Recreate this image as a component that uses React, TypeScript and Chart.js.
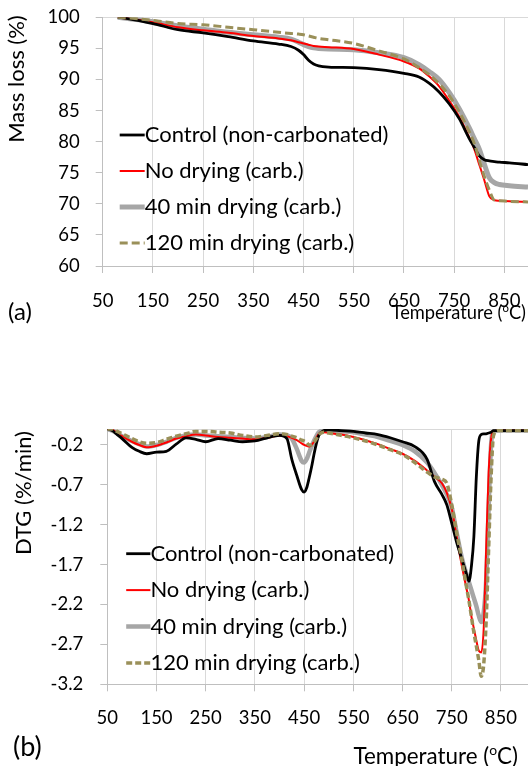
import React, { useEffect, useRef } from 'react';
import { Chart, registerables } from 'chart.js';

Chart.register(...registerables);

const FONT_FAMILY = 'Lato, "Open Sans", sans-serif';

// ---------- shared ----------
const seriesNames = [
  'Control (non-carbonated)',
  'No drying (carb.)',
  '40 min drying (carb.)',
  '120 min drying (carb.)',
];
const xTickValues = [50, 150, 250, 350, 450, 550, 650, 750, 850];

// ---------- panel (a): mass loss ----------
const massTicks = [60, 65, 70, 75, 80, 85, 90, 95, 100];
const tempA = [80, 100, 150, 200, 250, 300, 350, 400, 425, 440, 450, 460, 470, 480, 500, 550, 600, 650, 680, 700, 720, 740, 760, 780, 790, 800, 810, 820, 830, 840, 860, 897];
const massControl = [100, 99.8, 99.0, 98.0, 97.5, 96.9, 96.2, 95.7, 95.3, 94.7, 94.0, 93.1, 92.5, 92.2, 92.0, 91.9, 91.6, 91.0, 90.4, 89.4, 88.0, 86.1, 83.7, 80.5, 79.1, 77.7, 77.1, 76.9, 76.8, 76.7, 76.6, 76.3];
const massNoDrying = [100, 99.8, 99.2, 98.4, 97.9, 97.5, 97.0, 96.6, 96.3, 96.0, 95.8, 95.6, 95.4, 95.3, 95.2, 94.9, 94.0, 92.9, 91.8, 90.5, 88.9, 86.6, 84.0, 80.7, 78.8, 76.3, 73.8, 71.2, 70.6, 70.5, 70.4, 70.3];
const mass40min = [100, 99.8, 99.3, 98.6, 98.1, 97.6, 97.2, 96.8, 96.5, 96.0, 95.6, 95.3, 95.1, 95.0, 94.9, 94.8, 94.3, 93.5, 92.4, 91.3, 90.0, 87.9, 85.3, 82.2, 80.5, 78.8, 76.4, 74.2, 73.4, 73.1, 72.9, 72.7];
const mass120min = [100, 99.9, 99.5, 99.0, 98.8, 98.4, 98.0, 97.6, 97.4, 97.3, 97.2, 97.0, 96.8, 96.6, 96.4, 95.8, 94.6, 93.3, 91.9, 90.8, 89.3, 87.4, 84.8, 81.6, 79.7, 77.0, 74.4, 72.2, 70.6, 70.5, 70.4, 70.3];

// ---------- panel (b): DTG ----------
const dtgTicks = [-3.2, -2.7, -2.2, -1.7, -1.2, -0.7, -0.2, 0];
const tempB = [50, 60, 70, 80, 100, 115, 130, 150, 170, 190, 210, 230, 250, 275, 300, 325, 350, 375, 400, 415, 425, 435, 445, 450, 455, 460, 465, 470, 475, 480, 490, 500, 525, 550, 575, 600, 625, 650, 675, 700, 715, 730, 740, 750, 760, 770, 780, 785, 790, 795, 800, 805, 810, 815, 820, 825, 830, 835, 845, 870, 905];
const dtgControl = [0, -0.02, -0.07, -0.12, -0.23, -0.28, -0.31, -0.29, -0.28, -0.19, -0.11, -0.13, -0.16, -0.12, -0.14, -0.16, -0.15, -0.11, -0.08, -0.12, -0.38, -0.58, -0.76, -0.79, -0.74, -0.62, -0.48, -0.32, -0.18, -0.08, -0.02, -0.01, -0.02, -0.03, -0.05, -0.07, -0.11, -0.16, -0.22, -0.38, -0.66, -0.82, -0.95, -1.18, -1.42, -1.62, -1.82, -1.91, -1.72, -1.35, -0.6, -0.15, -0.07, -0.06, -0.06, -0.05, -0.04, -0.02, -0.02, -0.02, -0.02];
const dtgNoDrying = [0, -0.01, -0.05, -0.09, -0.16, -0.2, -0.23, -0.21, -0.17, -0.12, -0.09, -0.07, -0.08, -0.1, -0.11, -0.12, -0.13, -0.11, -0.08, -0.09, -0.11, -0.14, -0.18, -0.2, -0.21, -0.22, -0.2, -0.16, -0.11, -0.06, -0.04, -0.05, -0.07, -0.1, -0.14, -0.19, -0.25, -0.31, -0.4, -0.52, -0.6, -0.68, -0.8, -1.0, -1.35, -1.7, -2.0, -2.15, -2.35, -2.5, -2.65, -2.78, -2.8, -2.5, -1.5, -0.55, -0.12, -0.03, -0.02, -0.02, -0.02];
const dtg40min = [0, -0.02, -0.05, -0.09, -0.15, -0.19, -0.22, -0.2, -0.16, -0.11, -0.08, -0.07, -0.08, -0.09, -0.1, -0.11, -0.12, -0.1, -0.07, -0.08, -0.12, -0.25, -0.4, -0.42, -0.38, -0.3, -0.22, -0.15, -0.09, -0.04, -0.02, -0.02, -0.03, -0.04, -0.07, -0.1, -0.15, -0.2, -0.28, -0.42, -0.55, -0.7, -0.82, -0.98, -1.3, -1.6, -1.82, -1.92, -2.02, -2.12, -2.22, -2.34, -2.42, -2.3, -1.9, -1.0, -0.2, -0.03, -0.02, -0.02, -0.02];
const dtg120min = [0, 0, -0.03, -0.06, -0.12, -0.16, -0.18, -0.17, -0.13, -0.09, -0.06, -0.03, -0.03, -0.04, -0.05, -0.08, -0.1, -0.08, -0.06, -0.07, -0.09, -0.11, -0.14, -0.15, -0.17, -0.2, -0.2, -0.17, -0.12, -0.07, -0.04, -0.05, -0.08, -0.11, -0.15, -0.2, -0.26, -0.32, -0.42, -0.54, -0.6, -0.63, -0.68, -0.95, -1.3, -1.62, -1.98, -2.15, -2.35, -2.55, -2.72, -2.9, -3.1, -2.95, -2.4, -1.5, -0.6, -0.08, -0.02, -0.02, -0.02];

// ---------- styles ----------
const seriesColors = ['#000000', '#ff0000', '#a6a6a6', '#9a9059'];
const drawOrder = [2, 3, 4, 1];
const widthsA = [2.8, 2, 5, 3];
const widthsB = [2.8, 2, 4.5, 3.5];
const dashA = [[], [], [], [8, 4]];
const dashB = [[], [], [], [6, 3]];

function drawTempTitle(ctx: CanvasRenderingContext2D, right: number, y: number, size: number) {
  const p1 = 'Temperature (';
  const sup = 'o';
  const p2 = 'C)';
  ctx.font = `${size}px ${FONT_FAMILY}`;
  const w1 = ctx.measureText(p1).width;
  const w3 = ctx.measureText(p2).width;
  ctx.font = `${size * 0.62}px ${FONT_FAMILY}`;
  const w2 = ctx.measureText(sup).width;
  const x0 = right - (w1 + w2 + w3);
  ctx.textAlign = 'left';
  ctx.textBaseline = 'middle';
  ctx.font = `${size}px ${FONT_FAMILY}`;
  ctx.fillText(p1, x0, y);
  ctx.font = `${size * 0.62}px ${FONT_FAMILY}`;
  ctx.fillText(sup, x0 + w1, y - size * 0.28);
  ctx.font = `${size}px ${FONT_FAMILY}`;
  ctx.fillText(p2, x0 + w1 + w2, y);
}

const decorPlugin = {
  id: 'decor',
  afterDraw(chart: any, _args: any, opts: any) {
    const ctx: CanvasRenderingContext2D = chart.ctx;
    const area = chart.chartArea;
    ctx.save();
    ctx.fillStyle = '#000';
    ctx.textBaseline = 'middle';
    chart.data.datasets.forEach((d: any, i: number) => {
      const y = area.top + opts.legendTop + i * opts.legendGap;
      const x0 = area.left + opts.legendLeft;
      const x1 = x0 + opts.legendLine;
      ctx.save();
      ctx.strokeStyle = d.borderColor;
      ctx.lineWidth = d.borderWidth;
      ctx.setLineDash(d.borderDash || []);
      ctx.beginPath();
      ctx.moveTo(x0, y);
      ctx.lineTo(x1, y);
      ctx.stroke();
      ctx.restore();
      ctx.font = `${opts.legendSize}px ${FONT_FAMILY}`;
      ctx.textAlign = 'left';
      ctx.fillText(d.label, x1, y);
    });
    ctx.save();
    ctx.translate(opts.yTitleX, opts.yTitleY);
    ctx.rotate(-Math.PI / 2);
    ctx.textAlign = 'center';
    ctx.font = `${opts.yTitleSize}px ${FONT_FAMILY}`;
    ctx.fillText(opts.yTitle, 0, 0);
    ctx.restore();
    ctx.textAlign = 'left';
    ctx.font = `${opts.panelSize}px ${FONT_FAMILY}`;
    ctx.fillText(opts.panelLabel, opts.panelX, opts.panelY);
    drawTempTitle(ctx, opts.xTitleRight, opts.xTitleY, opts.xTitleSize);
    ctx.restore();
  },
};

type Panel = {
  height: number;
  top: number;
  padTop: number;
  yWidth: number;
  xHeight: number;
  xMax: number;
  yMin: number;
  yMax: number;
  yTicks: number[];
  yLabel: (v: number) => string;
  yPad: number;
  xPad: number;
  temps: number[];
  series: number[][];
  widths: number[];
  dashes: number[][];
  decor: any;
};

const panels: Panel[] = [
  {
    height: 330,
    top: 0,
    padTop: 17.3,
    yWidth: 102.7,
    xHeight: 64,
    xMax: 897,
    yMin: 60,
    yMax: 100,
    yTicks: massTicks,
    yLabel: (v) => String(v),
    yPad: 16,
    xPad: 17,
    temps: tempA,
    series: [massControl, massNoDrying, mass40min, mass120min],
    widths: widthsA,
    dashes: dashA,
    decor: {
      legendLeft: 17, legendLine: 25, legendTop: 117.7, legendGap: 36, legendSize: 22,
      yTitle: 'Mass loss (%)', yTitleX: 17, yTitleY: 79, yTitleSize: 22,
      panelLabel: '(a)', panelX: 8, panelY: 312, panelSize: 24,
      xTitleRight: 526, xTitleY: 313, xTitleSize: 18.3,
    },
  },
  {
    height: 376,
    top: 390,
    padTop: 39,
    yWidth: 107.3,
    xHeight: 81.7,
    xMax: 905,
    yMin: -3.2,
    yMax: 0,
    yTicks: dtgTicks,
    yLabel: (v) => (v === 0 ? '' : v.toFixed(1)),
    yPad: 17,
    xPad: 16,
    temps: tempB,
    series: [dtgControl, dtgNoDrying, dtg40min, dtg120min],
    widths: widthsB,
    dashes: dashB,
    decor: {
      legendLeft: 18.9, legendLine: 24.2, legendTop: 124.7, legendGap: 36.4, legendSize: 22,
      yTitle: 'DTG (%/min)', yTitleX: 23.5, yTitleY: 103, yTitleSize: 22,
      panelLabel: '(b)', panelX: 13, panelY: 357, panelSize: 27,
      xTitleRight: 518, xTitleY: 367, xTitleSize: 22.4,
    },
  },
];

function PanelChart({ p }: { p: Panel }) {
  const ref = useRef<HTMLCanvasElement | null>(null);
  useEffect(() => {
    if (!ref.current) return;
    const chart = new Chart(ref.current, {
      type: 'line',
      data: {
        datasets: p.series.map((vals, i) => ({
          label: seriesNames[i],
          data: p.temps.map((t, j) => ({ x: t, y: vals[j] })),
          borderColor: seriesColors[i],
          backgroundColor: seriesColors[i],
          borderWidth: p.widths[i],
          borderDash: p.dashes[i],
          pointRadius: 0,
          fill: false,
          cubicInterpolationMode: 'monotone',
          order: drawOrder[i],
        })),
      },
      options: {
        responsive: false,
        animation: false,
        events: [],
        layout: { padding: { top: p.padTop, left: 0, right: 0, bottom: 0 } },
        plugins: {
          legend: { display: false },
          tooltip: { enabled: false },
          decor: p.decor,
        } as any,
        scales: {
          x: {
            type: 'linear',
            min: 50,
            max: p.xMax,
            afterBuildTicks: (s: any) => {
              s.ticks = xTickValues.map((v) => ({ value: v }));
            },
            afterFit: (s: any) => {
              s.height = p.xHeight;
              s.paddingLeft = 0;
              s.paddingRight = 0;
            },
            grid: { color: '#d9d9d9', lineWidth: 1, tickLength: 7, tickColor: '#bfbfbf' },
            border: { color: '#bfbfbf', width: 1 },
            ticks: {
              font: { family: FONT_FAMILY, size: 18.5 },
              color: '#000',
              padding: p.xPad,
              maxRotation: 0,
              autoSkip: false,
              callback: (v: any) => String(v),
            },
          },
          y: {
            type: 'linear',
            min: p.yMin,
            max: p.yMax,
            afterBuildTicks: (s: any) => {
              s.ticks = p.yTicks.map((v) => ({ value: v }));
            },
            afterFit: (s: any) => {
              s.width = p.yWidth;
              s.paddingTop = 0;
              s.paddingBottom = 0;
            },
            grid: {
              color: (c: any) => (c.tick && c.tick.value === p.yMax ? '#d9d9d9' : 'rgba(0,0,0,0)'),
              tickColor: (c: any) => (c.tick && c.tick.value === 0 ? 'rgba(0,0,0,0)' : '#bfbfbf'),
              tickLength: 7,
              lineWidth: 1,
            },
            border: { color: '#bfbfbf', width: 1 },
            ticks: {
              font: { family: FONT_FAMILY, size: 18.5 },
              color: '#000',
              padding: p.yPad,
              autoSkip: false,
              callback: (v: any) => p.yLabel(Number(v)),
            },
          },
        },
      } as any,
      plugins: [decorPlugin as any],
    });
    return () => chart.destroy();
  }, [p]);
  return (
    <canvas
      ref={ref}
      width={528}
      height={p.height}
      style={{ position: 'absolute', left: 0, top: p.top, width: 528, height: p.height }}
    />
  );
}

export default function App() {
  return (
    <div style={{ position: 'absolute', left: 0, top: 0, width: 528, height: 766, background: '#fff' }}>
      {panels.map((p, i) => (
        <PanelChart key={i} p={p} />
      ))}
    </div>
  );
}
